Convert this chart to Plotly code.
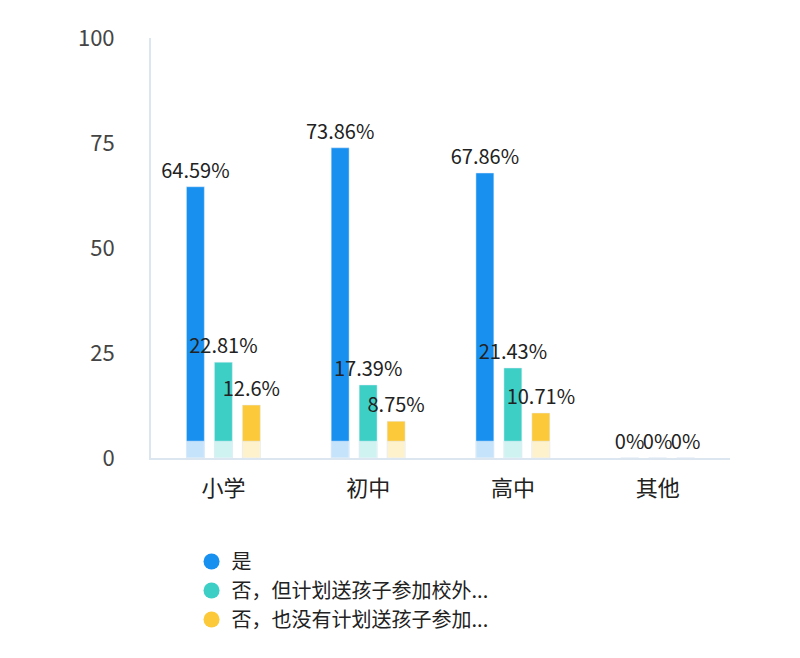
import plotly.graph_objects as go

categories = ["小学", "初中", "高中", "其他"]
series_names = ["是", "否，但计划送孩子参加校外...", "否，也没有计划送孩子参加..."]
yes_vals = [64.59, 73.86, 67.86, 0]
plan_vals = [22.81, 17.39, 21.43, 0]
noplan_vals = [12.6, 8.75, 10.71, 0]
colors = ["#1890f0", "#3dcfc6", "#fcc93b"]
highlight = 4

fig = go.Figure()
for i, (name, vals, c) in enumerate(zip(series_names, [yes_vals, plan_vals, noplan_vals], colors)):
    fig.add_bar(x=categories, y=vals, name=name, marker_color=c, showlegend=False,
                text=[f"{v:g}%" for v in vals], textposition="outside", constraintext="none",
                textfont=dict(size=20, color="#222"), cliponaxis=False, offsetgroup=str(i))
for i, vals in enumerate([yes_vals, plan_vals, noplan_vals]):
    fig.add_bar(x=categories, y=[min(v, highlight) for v in vals], showlegend=False,
                marker_color="rgba(255,255,255,0.75)", hoverinfo="skip", offsetgroup=str(i))
for name, c in zip(series_names, colors):
    fig.add_scatter(x=[None], y=[None], mode="markers", name=name,
                    marker=dict(color=c, size=22, symbol="circle"))

fig.update_layout(
    width=800, height=658, barmode="group", bargap=0.42, bargroupgap=0.36,
    plot_bgcolor="white", paper_bgcolor="white",
    font=dict(family="Noto Sans CJK SC", color="#444"),
    margin=dict(l=143, r=78, t=25, b=208),
    showlegend=True,
    legend=dict(x=0.07, y=-0.2, xanchor="left", yanchor="top", font=dict(size=20, color="#222"),
                tracegroupgap=0),
)
fig.update_yaxes(range=[0, 100], tickvals=[0, 25, 50, 75, 100], showgrid=False,
                 showline=True, linecolor="#dce6f0", linewidth=2, zeroline=False,
                 tickfont=dict(size=22, color="#444"), ticklabelstandoff=30)
fig.update_xaxes(showline=True, linecolor="#dce6f0", linewidth=2,
                 tickfont=dict(size=22, color="#222"), ticklabelstandoff=10)
fig.write_html("out.html")
